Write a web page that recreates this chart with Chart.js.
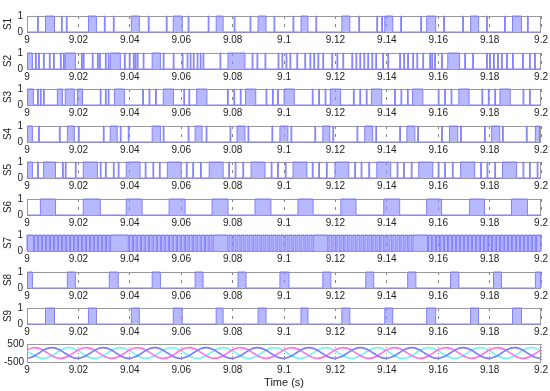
<!DOCTYPE html>
<html>
<head>
<meta charset="utf-8">
<script src="https://cdn.jsdelivr.net/npm/chart.js@4.4.0/dist/chart.umd.min.js"></script>
<style>
  body { margin: 0; background: #fff; width: 550px; height: 391px; position: relative; overflow: hidden; }
  canvas { position: absolute; left: 0; }
</style>
</head>
<body>
<script>
// switching signals: edges in ms after t = 9 s
const s1Blocks = [[7.2,10.7],[23.9,27.0],[40.6,43.7],[56.9,60.4],[73.6,76.3],[89.9,93.0],[106.6,109.3],[122.5,125.6],[139.2,142.3],[155.5,159.0],[172.6,175.7],[188.9,192.4]];
const s1Lines = [4.1,13.4,15.3,30.1,33.6,47.2,54.2,62.7,70.5,80.6,86.8,96.1,103.5,112.4,129.1,136.1,138.0,145.4,153.2,162.1,169.5,178.8,185.8,194.7];

const s2Blocks = [[0.2,2.1],[14.9,18.8],[32.4,36.3],[48.7,51.9],[78.2,84.8],[163.7,168.3]];
const s2Lines = [3.3,4.5,6.4,8.7,10.3,13.0,14.2,21.2,21.9,25.4,27.4,28.2,30.5,31.6,37.9,39.8,41.4,42.1,42.9,45.2,53.0,56.9,60.4,62.3,63.5,64.7,66.2,67.4,68.5,75.1,87.6,89.5,92.6,97.7,99.2,100.8,102.3,105.0,108.1,110.1,111.6,113.2,115.1,118.6,120.6,122.9,126.4,128.0,129.5,131.1,132.6,134.2,135.7,138.4,140.4,145.0,146.6,148.1,150.1,151.7,154.0,156.7,157.5,158.6,161.3,170.3,173.4,178.8,180.0,181.5,183.1,184.6,186.6,188.9,192.8,195.5,197.5];

const s3Blocks = [[0.2,2.5],[11.8,13.8],[14.9,18.4],[19.6,21.6],[34.0,37.9],[53.0,57.0],[66.0,70.0],[85.0,89.0],[100.0,104.0],[118.0,122.0],[134.0,138.0],[150.0,154.0],[168.0,172.0],[184.0,188.0]];
const s3Lines = [4.1,5.2,6.4,28.5,30.5,31.6,45.0,47.5,50.0,61.0,63.0,78.0,80.5,83.0,93.0,95.5,97.5,111.0,113.5,116.0,127.0,129.5,132.0,143.0,145.5,148.0,160.0,162.5,165.0,177.0,179.5,182.0,193.0,195.5];

const s4Blocks = [[0.2,2.1],[15.7,18.4],[32.4,35.1],[48.7,51.9],[65.4,68.1],[81.7,84.8],[98.4,101.5],[115.1,117.8],[131.4,134.5],[147.8,150.9],[164.4,167.6],[180.8,183.9],[197.8,199.4]];
const s4Lines = [4.5,12.6,20.0,29.7,36.3,39.4,53.0,62.7,69.7,79.0,86.0,95.3,102.7,112.0,119.0,128.4,135.7,145.0,152.0,161.3,168.7,178.0,185.0,194.3];

const s5Blocks = [[0.2,2.1],[6.4,11.1],[21.9,27.4],[38.6,44.0],[54.6,60.0],[70.9,76.3],[87.2,92.6],[103.5,108.9],[119.8,125.2],[136.1,141.5],[152.4,157.9],[168.7,174.2],[185.0,190.5]];
const s5Lines = [4.1,13.8,14.9,18.8,28.5,30.5,33.6,35.5,46.0,49.0,51.5,62.0,64.5,67.5,78.5,81.0,84.0,95.0,97.5,100.5,111.0,113.5,116.5,127.5,130.0,133.0,144.0,146.5,149.5,160.0,162.5,165.5,176.5,179.0,182.0,193.0,195.5,198.5];

const s6Blocks = [[5.2,11.1],[21.9,28.5],[38.6,44.8],[55.3,61.5],[72.0,78.2],[88.7,94.9],[105.4,111.3],[122.1,128.0],[138.8,145.0],[155.5,161.3],[172.2,178.0],[188.5,194.7]];
const s6Lines = [];

// S7 is high almost all the time: these are the short low gaps
const s7Gaps = [2.5,4.1,5.6,7.2,8.7,10.3,11.8,13.4,14.9,16.5,18.1,19.6,21.2,22.7,24.3,25.8,27.4,29.0,30.5,32.0,39.4,41.0,42.5,44.1,45.6,47.2,48.7,50.3,51.9,53.4,55.0,56.5,58.1,59.6,61.2,62.7,64.3,65.8,67.4,69.0,70.5,72.0,78.2,79.8,81.3,82.9,84.4,86.0,87.6,89.1,90.7,92.2,93.8,95.3,96.9,98.4,100.0,101.5,103.1,104.6,106.2,107.8,109.3,110.9,117.0,118.6,120.1,121.7,123.2,124.8,126.4,127.9,129.5,131.0,132.6,134.1,135.7,137.2,138.8,140.4,141.9,143.5,145.0,146.6,148.1,149.7,155.8,157.4,158.9,160.5,162.0,163.6,165.1,166.7,168.2,169.8,171.4,172.9,174.5,176.0,177.6,179.1,180.7,182.2,183.8,185.3,186.9,188.5,190.0,191.6,193.1,194.7,196.2,197.8];

const s8Blocks = [[0.2,2.1],[15.7,18.8],[32.0,35.5],[48.7,51.9],[65.4,68.5],[82.1,85.2],[98.4,101.9],[115.1,118.2],[131.8,134.9],[148.1,151.3],[164.8,168.0],[181.5,184.6],[197.8,200.0]];
const s9Blocks = [[7.2,10.7],[23.9,27.0],[40.6,43.7],[56.9,60.4],[73.6,76.3],[89.9,93.0],[106.6,109.3],[122.5,125.6],[139.2,142.3],[155.5,159.0],[172.6,175.7],[188.9,192.4]];

// bottom panel: three phase voltages sampled every 2.5 ms from t = 9 s
const sampleStepMs = 2.5;
const vMagenta = [
  176,296,243,47,-176,-296,-243,-47,
  176,296,243,47,-176,-296,-243,-47,
  176,296,243,47,-176,-296,-243,-47,
  176,296,243,47,-176,-296,-243,-47,
  176,296,243,47,-176,-296,-243,-47,
  176,296,243,47,-176,-296,-243,-47,
  176,296,243,47,-176,-296,-243,-47,
  176,296,243,47,-176,-296,-243,-47,
  176,296,243,47,-176,-296,-243,-47,
  176,296,243,47,-176,-296,-243,-47,
  176];
const vBlue = [
  -298,-189,31,233,298,189,-31,-233,
  -298,-189,31,233,298,189,-31,-233,
  -298,-189,31,233,298,189,-31,-233,
  -298,-189,31,233,298,189,-31,-233,
  -298,-189,31,233,298,189,-31,-233,
  -298,-189,31,233,298,189,-31,-233,
  -298,-189,31,233,298,189,-31,-233,
  -298,-189,31,233,298,189,-31,-233,
  -298,-189,31,233,298,189,-31,-233,
  -298,-189,31,233,298,189,-31,-233,
  -298];
const vCyan = [
  122,-107,-274,-280,-122,107,274,280,
  122,-107,-274,-280,-122,107,274,280,
  122,-107,-274,-280,-122,107,274,280,
  122,-107,-274,-280,-122,107,274,280,
  122,-107,-274,-280,-122,107,274,280,
  122,-107,-274,-280,-122,107,274,280,
  122,-107,-274,-280,-122,107,274,280,
  122,-107,-274,-280,-122,107,274,280,
  122,-107,-274,-280,-122,107,274,280,
  122,-107,-274,-280,-122,107,274,280,
  122];

const panelNames = ['S1','S2','S3','S4','S5','S6','S7','S8','S9'];
const tStart = 9, tEnd = 9.2;
const lineWidthMs = 0.3;

function intervalsFrom(blocks, lines) {
  const all = blocks.map(b => [b[0], b[1]]).concat(lines.map(t => [t, t + lineWidthMs]));
  all.sort((a, b) => a[0] - b[0]);
  return all;
}

function intervalsFromGaps(gaps) {
  const out = [];
  let s = 0;
  gaps.forEach(g => { out.push([s, g]); s = g + 0.45; });
  out.push([s, 200]);
  return out;
}

function stepPoints(intervals) {
  const pts = [{ x: tStart, y: 0 }];
  intervals.forEach(iv => {
    pts.push({ x: tStart + iv[0] / 1000, y: 1 });
    pts.push({ x: tStart + iv[1] / 1000, y: 0 });
  });
  pts.push({ x: tEnd, y: 0 });
  return pts;
}

const signals = [
  intervalsFrom(s1Blocks, s1Lines),
  intervalsFrom(s2Blocks, s2Lines),
  intervalsFrom(s3Blocks, s3Lines),
  intervalsFrom(s4Blocks, s4Lines),
  intervalsFrom(s5Blocks, s5Lines),
  intervalsFrom(s6Blocks, s6Lines),
  intervalsFromGaps(s7Gaps),
  intervalsFrom(s8Blocks, []),
  intervalsFrom(s9Blocks, [])
];

const tickFont = { family: 'Liberation Sans, Arial, sans-serif', size: 10 };

// box round each plot area, like the matlab axes
const frame = {
  id: 'frame',
  beforeDatasetsDraw(chart) {
    const a = chart.chartArea, ctx = chart.ctx;
    ctx.save();
    ctx.strokeStyle = '#999';
    ctx.lineWidth = 1;
    ctx.strokeRect(Math.round(a.left) + 0.5, Math.round(a.top) + 0.5, Math.round(a.right - a.left) - 1, Math.round(a.bottom - a.top));
    ctx.restore();
  }
};

function xScale(height, grid, title) {
  return {
    type: 'linear', min: tStart, max: tEnd,
    ticks: {
      stepSize: 0.02, padding: 2, maxRotation: 0, autoSkip: false,
      font: tickFont, color: '#222',
      callback: v => String(+v.toFixed(2))
    },
    grid: grid,
    border: { display: false, dash: grid.dash },
    title: title || { display: false },
    afterFit: s => { s.height = height; }
  };
}

function addCanvas(top, h) {
  const c = document.createElement('canvas');
  c.width = 550; c.height = h;
  c.style.top = top + 'px';
  document.body.appendChild(c);
  return c;
}

const plotTops = [12, 48.5, 85, 121.5, 158, 194.5, 231, 267.5, 304];
const plotH = 20;

panelNames.forEach((name, i) => {
  const top = Math.round(plotTops[i]);
  const cv = addCanvas(top - 6, 6 + plotH + 14);
  new Chart(cv, {
    type: 'line',
    data: {
      datasets: [{
        data: stepPoints(signals[i]),
        stepped: true,
        fill: 'origin',
        borderColor: '#8080ff',
        backgroundColor: 'rgba(140,140,255,0.62)',
        borderWidth: 1,
        pointRadius: 0,
        clip: { left: 1, right: 1, top: 2, bottom: 2 }
      }]
    },
    options: {
      responsive: false, animation: false, events: [],
      layout: { padding: { top: 6, right: 8, left: 0, bottom: 0 } },
      plugins: { legend: { display: false }, tooltip: { enabled: false } },
      scales: {
        x: xScale(14, { color: 'rgba(30,30,30,0.55)', drawTicks: false, dash: [3, 5] }),
        y: {
          min: 0, max: 1,
          ticks: { stepSize: 1, padding: 4, font: tickFont, color: '#222' },
          grid: { display: false, drawTicks: false },
          border: { display: false },
          title: { display: true, text: name, font: tickFont, color: '#222', padding: { top: 2, bottom: 0 } },
          afterFit: s => { s.width = 27; }
        }
      }
    },
    plugins: [frame]
  });
});

// voltages panel
const vx = vMagenta.map((_, k) => tStart + k * sampleStepMs / 1000);
function series(vals, color) {
  return {
    data: vals.map((v, k) => ({ x: vx[k], y: v })),
    borderColor: color, borderWidth: 1.6, pointRadius: 0, tension: 0.4, fill: false
  };
}
const vTop = 341, vH = 21;
const vc = addCanvas(vTop - 6, 6 + vH + 30);
new Chart(vc, {
  type: 'line',
  data: {
    datasets: [
      series(vBlue, '#7a7aff'),
      series(vMagenta, '#ff6ee6'),
      series(vCyan, '#6ef2f2')
    ]
  },
  options: {
    responsive: false, animation: false, events: [],
    layout: { padding: { top: 6, right: 8, left: 0, bottom: 0 } },
    plugins: { legend: { display: false }, tooltip: { enabled: false } },
    scales: {
      x: xScale(30, { color: '#9a9a9a', drawTicks: false, dash: [1, 2] },
        { display: true, text: 'Time (s)', font: { family: tickFont.family, size: 11 }, color: '#222', padding: { top: 2, bottom: 2 } }),
      y: {
        min: -500, max: 500,
        ticks: { stepSize: 500, padding: 3, font: tickFont, color: '#222' },
        grid: { color: '#9a9a9a', drawTicks: false },
        border: { display: false, dash: [1, 2] },
        afterFit: s => { s.width = 27; }
      }
    }
  },
  plugins: [frame]
});
</script>
</body>
</html>
